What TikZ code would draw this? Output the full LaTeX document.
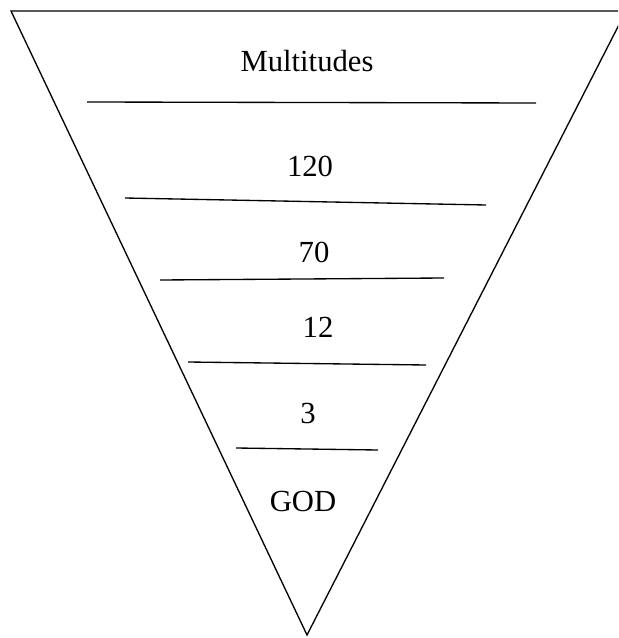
\documentclass[tikz,border=0pt]{standalone}
\usepackage{fontspec}
\setmainfont{Liberation Serif}
\usetikzlibrary{positioning}

\begin{document}
\begin{tikzpicture}[x=0.75pt,y=-0.75pt,line width=1pt,
    lvl/.style={inner sep=0pt,font=\fontsize{23}{27}\selectfont}]
        \useasboundingbox (0,0) rectangle (618,638);
        \clip (0,0) rectangle (618,638);
        % funnel outline
        \coordinate (tl) at (11,11); \coordinate (tr) at (626,11); \coordinate (apex) at (307,635);
        \draw[line join=miter] (tl) -- (tr) -- (apex) -- cycle;
        % dividing lines
        \draw (87,102) -- (536,103);
        \draw (125,198) -- (486,205);
        \draw (160,280) -- (444,278);
        \draw (188,362) -- (426,365);
        \draw (236,448) -- (378,450);
        % levels
        \node[lvl] (mult) at (307,61) {Multitudes};
        \node[lvl] (l120) at (310,166) {120};
        \node[lvl] (l70) at (314,252) {70};
        \node[lvl] (l12) at (318,327) {12};
        \node[lvl] (l3) at (308,413) {3};
        \node[lvl] (god) at (303,501) {GOD};
      \end{tikzpicture}
\end{document}
